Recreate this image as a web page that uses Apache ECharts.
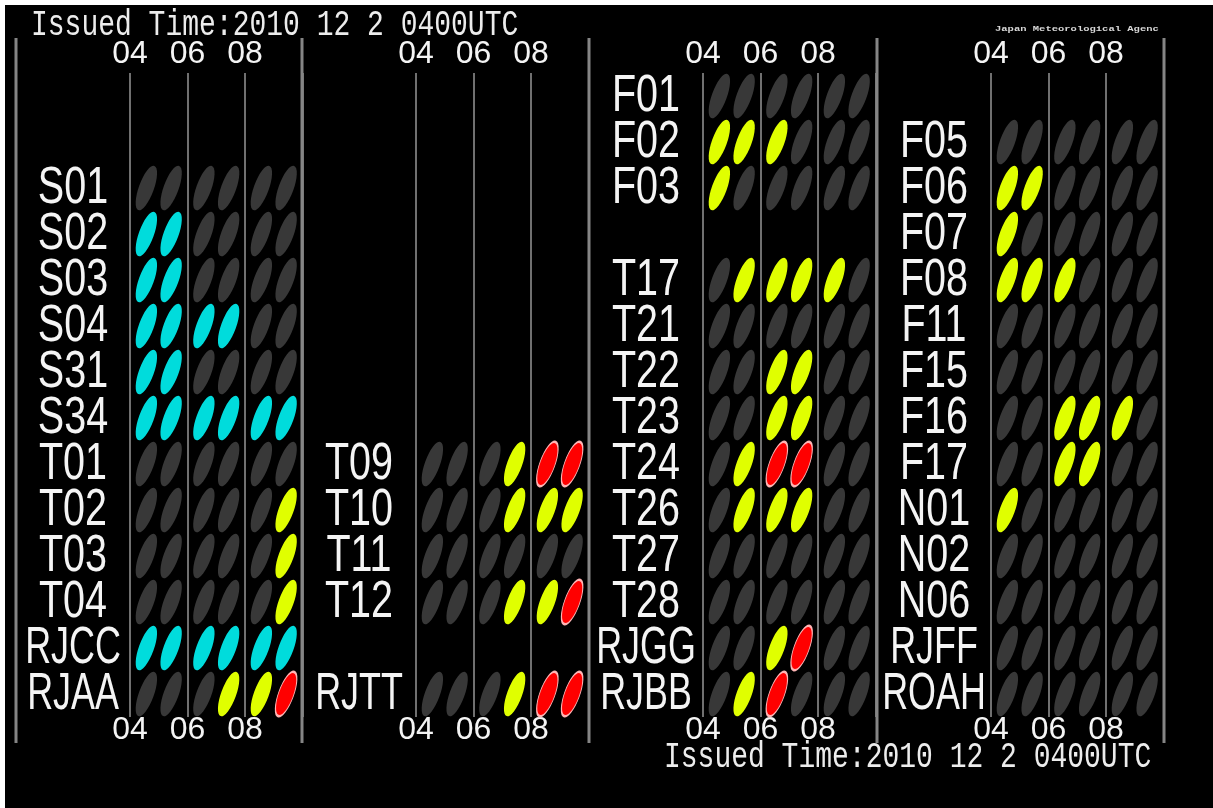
<!DOCTYPE html>
<html>
<head>
<meta charset="utf-8">
<script src="https://cdn.jsdelivr.net/npm/echarts@6/dist/echarts.min.js"></script>
<style>
  html, body { margin: 0; padding: 0; background: #fff; }
  #chart { width: 1213px; height: 808px; }
</style>
</head>
<body>
<div id="chart"></div>
<script>
// tick labels on the time axes (block starts)
var tickHours = [4, 6, 8];
// one ellipse per forecast hour
var slotHours = [4, 5, 6, 7, 8, 9];

// station rows of each panel ('' = empty row)
var rows1 = ['', '', 'S01', 'S02', 'S03', 'S04', 'S31', 'S34', 'T01', 'T02', 'T03', 'T04', 'RJCC', 'RJAA'];
var rows2 = ['', '', '', '', '', '', '', '', 'T09', 'T10', 'T11', 'T12', '', 'RJTT'];
var rows3 = ['F01', 'F02', 'F03', '', 'T17', 'T21', 'T22', 'T23', 'T24', 'T26', 'T27', 'T28', 'RJGG', 'RJBB'];
var rows4 = ['', 'F05', 'F06', 'F07', 'F08', 'F11', 'F15', 'F16', 'F17', 'N01', 'N02', 'N06', 'RJFF', 'ROAH'];

// g = none, c = cyan, y = yellow, r = red (one letter per hour)
var status1 = ['', '', 'gggggg', 'ccgggg', 'ccgggg', 'ccccgg', 'ccgggg', 'cccccc', 'gggggg', 'gggggy', 'gggggy', 'gggggy', 'cccccc', 'gggyyr'];
var status2 = ['', '', '', '', '', '', '', '', 'gggyrr', 'gggyyy', 'gggggg', 'gggyyr', '', 'gggyrr'];
var status3 = ['gggggg', 'yyyggg', 'yggggg', '', 'gyyyyg', 'gggggg', 'ggyygg', 'ggyygg', 'gyrrgg', 'gyyygg', 'gggggg', 'gggggg', 'ggyrgg', 'gyrggg'];
var status4 = ['', 'gggggg', 'yygggg', 'yggggg', 'yyyggg', 'gggggg', 'gggggg', 'ggyyyg', 'ggyygg', 'yggggg', 'gggggg', 'gggggg', 'gggggg', 'gggggg'];

var issued = 'Issued Time:2010 12 2 0400UTC';

var colors = { g: '#383838', c: '#00dcdc', y: '#e0ff00', r: '#ff0000' };
var panelLeft = [16, 302, 589, 877];
var panels = [
  { rows: rows1, status: status1 },
  { rows: rows2, status: status2 },
  { rows: rows3, status: status3 },
  { rows: rows4, status: status4 }
];

var myChart = echarts.init(document.getElementById('chart'));

var grid = [], xAxis = [], yAxis = [], series = [];

function tickFormatter(v) {
  return tickHours.indexOf(v) >= 0 ? (v < 10 ? '0' + v : '' + v) : '';
}

// station names, drawn narrow (condensed gothic look)
function renderName(params, api) {
  var name = api.value(2);
  if (!name) return null;
  var pt = api.coord([4, api.value(1)]);
  return {
    type: 'text',
    x: pt[0] - 57,
    y: pt[1] + 1,
    scaleX: name.length > 3 ? 0.69 : 0.76,
    style: {
      text: name,
      font: "52px 'Liberation Sans', sans-serif",
      fill: '#f4f4f4',
      align: 'center',
      verticalAlign: 'middle'
    }
  };
}

panels.forEach(function (p, k) {
  grid.push({ left: panelLeft[k] + 114, top: 73, width: 172.5, height: 644 });
  ['top', 'bottom'].forEach(function (pos) {
    xAxis.push({
      type: 'value',
      gridIndex: k,
      position: pos,
      min: 4,
      max: 10,
      interval: 2,
      axisLine: { show: false },
      axisTick: { show: false },
      splitLine: pos === 'top' ? { show: true, lineStyle: { color: '#707070', width: 2 } } : { show: false },
      axisLabel: {
        color: '#f4f4f4',
        fontSize: 32,
        fontFamily: "'Liberation Sans', sans-serif",
        margin: pos === 'top' ? 3 : -3,
        formatter: tickFormatter
      }
    });
  });
  yAxis.push({
    type: 'category',
    gridIndex: k,
    inverse: true,
    data: p.rows,
    axisLine: { show: false },
    axisTick: { show: false },
    splitLine: { show: false },
    axisLabel: { show: false }
  });
  var data = [];
  p.status.forEach(function (s, i) {
    for (var j = 0; j < s.length; j++) {
      var c = s[j];
      data.push({
        value: [slotHours[j] + 0.5, i],
        symbolOffset: [j % 2 === 0 ? 2 : -2, 0],
        itemStyle: {
          color: colors[c],
          opacity: 1,
          borderColor: c === 'r' ? '#ffb4b4' : colors[c],
          borderWidth: c === 'r' ? 1.5 : 0
        }
      });
    }
  });
  series.push({
    type: 'scatter',
    xAxisIndex: k * 2,
    yAxisIndex: k,
    symbol: 'circle',
    symbolSize: [15, 47],
    symbolRotate: -20,
    silent: true,
    data: data
  });
  series.push({
    type: 'custom',
    xAxisIndex: k * 2,
    yAxisIndex: k,
    silent: true,
    renderItem: renderName,
    data: p.rows.map(function (n, i) { return [4, i, n]; })
  });
});

// frame: white edge, panel separators, titles
var graphic = [
  { type: 'rect', shape: { x: 0, y: 0, width: 1213, height: 5 }, style: { fill: '#fff' } },
  { type: 'rect', shape: { x: 0, y: 0, width: 5, height: 808 }, style: { fill: '#fff' } }
];
panelLeft.concat([1164]).forEach(function (x) {
  graphic.push({ type: 'line', shape: { x1: x, y1: 38, x2: x, y2: 743 }, style: { stroke: '#858585', lineWidth: 3 }, z: 10 });
});
graphic.push({
  type: 'text', x: 31, y: 25, scaleY: 1.3,
  style: { text: issued, font: "28px 'Liberation Mono', monospace", fill: '#ececec', verticalAlign: 'middle' }
});
graphic.push({
  type: 'text', x: 664, y: 757, scaleY: 1.3,
  style: { text: issued, font: "28px 'Liberation Mono', monospace", fill: '#ececec', verticalAlign: 'middle' }
});
graphic.push({
  type: 'text', x: 995, y: 29, scaleY: 0.75,
  style: { text: 'Japan Meteorological Agenc', font: "bold 10.5px 'Liberation Mono', monospace", fill: '#d8d8d8', verticalAlign: 'middle' }
});

myChart.setOption({
  backgroundColor: '#000',
  animation: false,
  grid: grid,
  xAxis: xAxis,
  yAxis: yAxis,
  series: series,
  graphic: graphic
});
</script>
</body>
</html>
